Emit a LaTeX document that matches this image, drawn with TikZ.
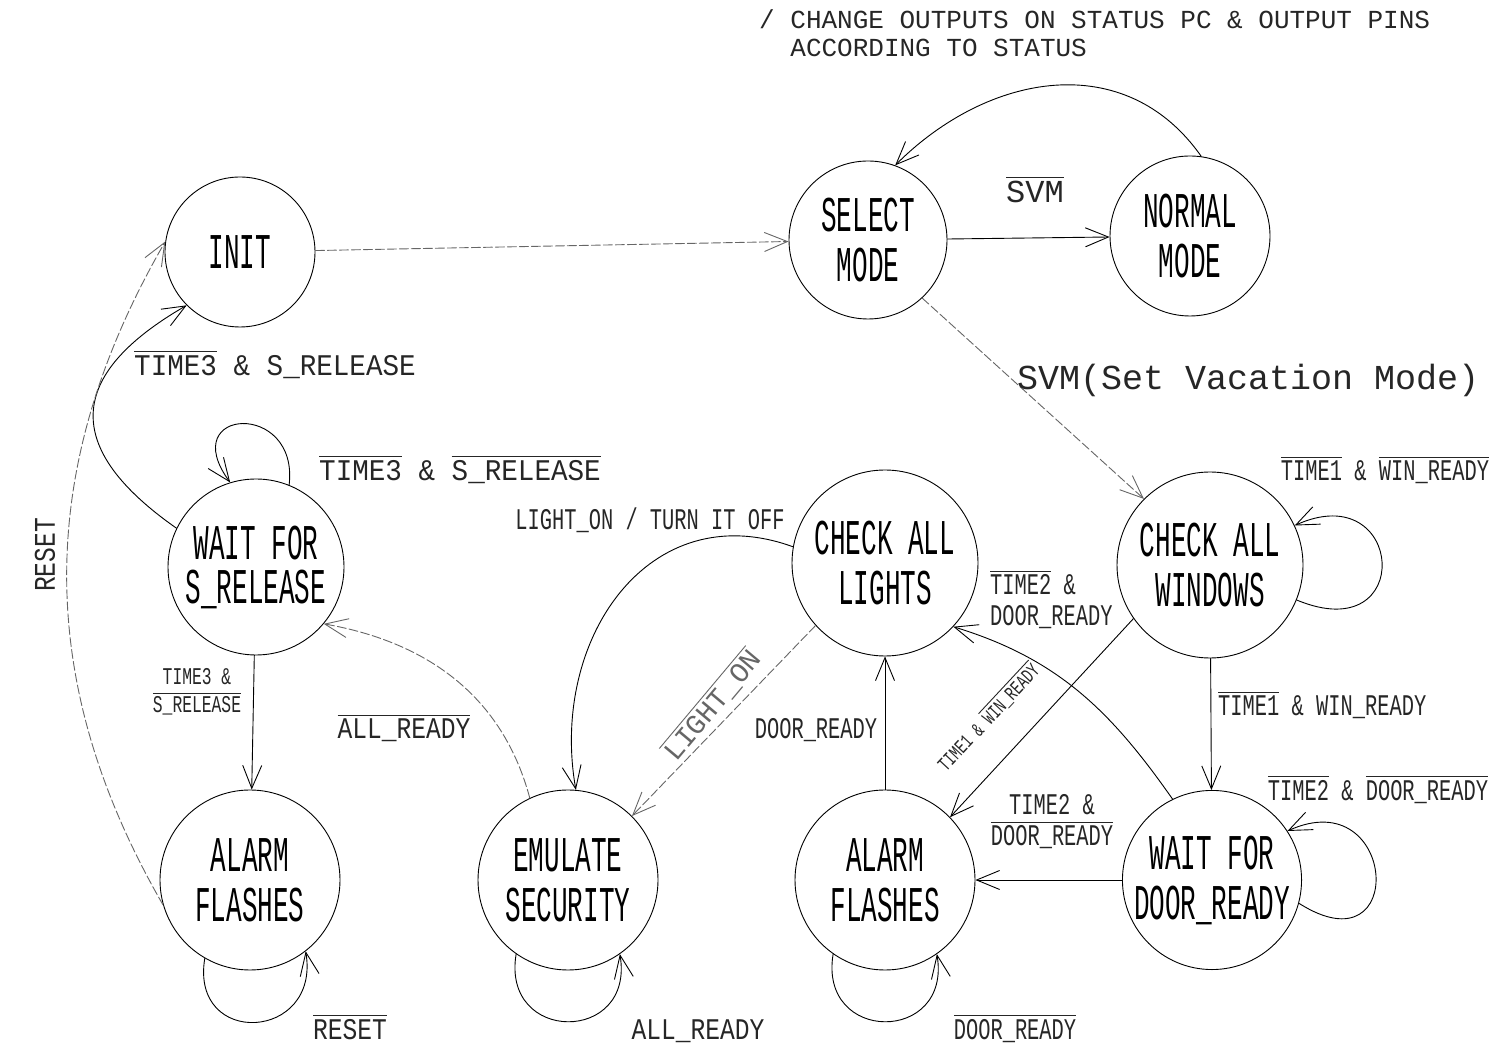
\documentclass[tikz,border=0pt]{standalone}
\usepackage{fontspec}
\usetikzlibrary{arrows.meta,positioning}

\newfontfamily\statefont[FakeStretch=0.52]{Liberation Mono}
\newfontfamily\lblfont[FakeStretch=0.68]{Liberation Mono}
\newfontfamily\midlblfont[FakeStretch=0.82]{Liberation Mono}
\newfontfamily\widelblfont[FakeStretch=0.92]{Liberation Mono}
\newfontfamily\notefont{Liberation Mono}
% overlined signal name
\newcommand{\ovl}[1]{\leavevmode\hbox{\vbox{\hrule height 0.9pt\kern3pt\hbox{#1}}}}

\begin{document}
\begin{tikzpicture}[x=1pt, y=1pt, line cap=round, line join=round,
  fsmstate/.style={circle, draw, line width=0.9pt, inner sep=0pt, minimum size=#1,
    align=center, font=\statefont\fontsize{50}{50}\selectfont},
  fsmstate/.default=180pt,
  lbl/.style={inner sep=2pt, align=center, text=black!85, font=\lblfont\fontsize{30}{31}\selectfont},
  midlbl/.style={lbl, font=\midlblfont\fontsize{30}{31}\selectfont},
  widelbl/.style={lbl, font=\widelblfont\fontsize{30}{31}\selectfont},
  trans/.style={line width=0.9pt, -{Straight Barb[length=23pt,width=19pt]}},
  faint/.style={trans, draw=black!60, dash pattern=on 9pt off 3pt}]

  \useasboundingbox (0,0) rectangle (1494,1047);

  % --- States ---
  \node[fsmstate=150pt] (init) at (240,795) {INIT};
  \node[fsmstate=158pt] (select) at (868,807) {SELECT\\MODE};
  \node[fsmstate=160pt] (normal) at (1190,811) {NORMAL\\MODE};
  \node[fsmstate=176pt, font=\statefont\fontsize{50}{44}\selectfont] (waitrel) at (256,480) {WAIT FOR\\S\_RELEASE};
  \node[fsmstate=186pt] (checkL) at (885,484) {CHECK ALL\\LIGHTS};
  \node[fsmstate=186pt] (checkW) at (1210,482) {CHECK ALL\\WINDOWS};
  \node[fsmstate] (alarmL) at (250,167) {ALARM\\FLASHES};
  \node[fsmstate] (emulate) at (568,167) {EMULATE\\SECURITY};
  \node[fsmstate] (alarmM) at (885,167) {ALARM\\FLASHES};
  \node[fsmstate=176pt] (waitdoor) at (1212,167) {WAIT FOR\\DOOR\_READY};

  % --- Top row ---
  \draw[faint] (init) -- (select);
  \draw[trans] (select) -- (normal);
  \draw[trans] (normal.82) to[out=125, in=45, looseness=1.1] (select.70);
  \draw[faint] (select.-47) -- (checkW.135);

  % --- Windows / door ---
  \draw[trans] (checkW.-22) .. controls +(120,-50) and +(110,50) .. (checkW.25);
  \draw[trans] (checkW) -- (waitdoor);
  \draw[trans] (waitdoor.-15) .. controls +(110,-70) and +(110,50) .. (waitdoor.33);
  \draw[trans] (waitdoor) -- (alarmM);
  \draw[trans] (waitdoor.116) to[out=125, in=-17] (checkL.-43);
  \draw[trans] (checkW.215) -- (alarmM.44);
  \draw[trans] (alarmM) -- (checkL);

  % --- Lights / security ---
  \draw[faint] (checkL.222) -- (emulate.45);
  \draw[trans] (checkL.170) to[out=160, in=100, looseness=1.2] (emulate.85);
  \draw[faint] (emulate.115) to[out=105, in=-10] (waitrel.-40);

  % --- Bottom self loops ---
  \draw[trans] (alarmL.240) .. controls +(-15,-90) and +(15,-90) .. (alarmL.308);
  \draw[trans] (emulate.235) .. controls +(-15,-90) and +(15,-90) .. (emulate.305);
  \draw[trans] (alarmM.235) .. controls +(-15,-90) and +(15,-90) .. (alarmM.305);

  % --- Release / reset ---
  \draw[trans] (waitrel) -- (alarmL);
  \draw[trans] (waitrel.68) .. controls +(10,85) and +(-55,75) .. (waitrel.107);
  \draw[trans] (waitrel.154) to[out=145, in=-150, looseness=1.6] (init.225);
  \draw[faint] (alarmL.196) to[out=120, in=-120] (init.172);

  % --- Labels ---
  \node[lbl, anchor=north west, align=left, font=\notefont\fontsize{26}{28}\selectfont] (lblTop) at (757,1040)
    {/ CHANGE OUTPUTS ON STATUS PC \& OUTPUT PINS\\\phantom{/ }ACCORDING TO STATUS};
  \node[lbl, font=\notefont\fontsize{32}{34}\selectfont] (lblSvm) at (1035,857) {\ovl{SVM}};
  \node[lbl, anchor=west, font=\notefont\fontsize{35}{36}\selectfont] (lblVac) at (1015,667) {SVM(Set Vacation Mode)};
  \node[lbl] (lblWinLoop) at (1385,577) {\ovl{TIME1} \& \ovl{WIN\_READY}};
  \node[lbl, anchor=west] (lblWin) at (1216,342) {\ovl{TIME1} \& WIN\_READY};
  \node[lbl] (lblDoorLoop) at (1378,257) {\ovl{TIME2} \& \ovl{DOOR\_READY}};
  \node[lbl] (lblAlarmM) at (1052,225) {TIME2 \&\\\ovl{DOOR\_READY}};
  \node[lbl, anchor=west, align=left] (lblLights) at (988,447) {\ovl{TIME2} \&\\DOOR\_READY};
  \node[lbl, rotate=47, font=\lblfont\fontsize{20}{22}\selectfont] (lblWinDiag) at (988,330) {TIME1 \& \ovl{WIN\_READY}};
  \node[lbl] (lblDoorUp) at (816,317) {DOOR\_READY};
  \node[lbl, rotate=50, text=black!60, font=\notefont\fontsize{28}{30}\selectfont] (lblLightOn) at (712,342) {\ovl{LIGHT\_ON}};
  \node[lbl] (lblTurnOff) at (650,527) {LIGHT\_ON / TURN IT OFF};
  \node[midlbl] (lblAllReady) at (404,319) {\ovl{ALL\_READY}};
  \node[widelbl] (lblRelLoop) at (460,577) {\ovl{TIME3} \& \ovl{S\_RELEASE}};
  \node[widelbl] (lblRelInit) at (275,682) {\ovl{TIME3} \& S\_RELEASE};
  \node[lbl, font=\lblfont\fontsize{24}{28}\selectfont] (lblRelAlarm) at (197,355) {TIME3 \&\\\ovl{S\_RELEASE}};
  \node[midlbl, rotate=90] (lblReset) at (45,492) {RESET};
  \node[midlbl, anchor=base] (lblResetLoop) at (350,8) {\ovl{RESET}};
  \node[midlbl, anchor=base] (lblAllLoop) at (698,8) {ALL\_READY};
  \node[lbl, anchor=base] (lblDoorLoopM) at (1015,8) {\ovl{DOOR\_READY}};
\end{tikzpicture}
\end{document}
